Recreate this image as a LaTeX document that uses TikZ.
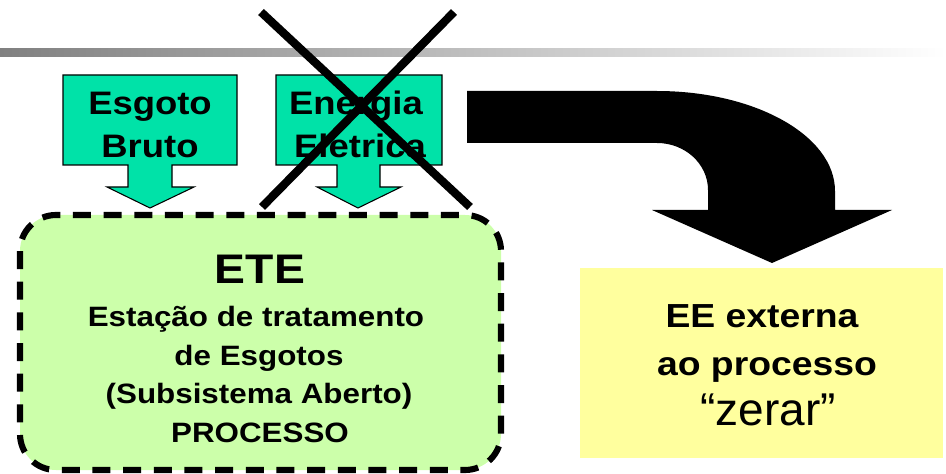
\documentclass[tikz,border=0pt]{standalone}
\usepackage{fontspec}
\setmainfont{Liberation Sans}
\newfontfamily\widefont{Liberation Sans}[FakeStretch=1.12]
\definecolor{mint}{RGB}{0,226,168}
\definecolor{lightgreen}{RGB}{204,255,170}
\definecolor{paleyellow}{RGB}{255,255,158}
\definecolor{bargray}{RGB}{128,128,128}
\tikzset{
  inarrow/.style={fill=mint, draw=black, line width=0.8pt},
  crossline/.style={line width=6.2pt, black},
  boldtxt/.style={anchor=base, inner sep=0pt, font=\widefont\bfseries\fontsize{24.4pt}{30pt}\selectfont},
  bodytxt/.style={anchor=base, inner sep=0pt, font=\widefont\bfseries\fontsize{21pt}{26pt}\selectfont},
  eetxt/.style={anchor=base, inner sep=0pt, font=\widefont\bfseries\fontsize{25pt}{30pt}\selectfont},
}
\begin{document}
\begin{tikzpicture}[x=0.75pt,y=-0.75pt]
\useasboundingbox (0,0) rectangle (946,474);
% gradient bar
\shade[left color=bargray, right color=white] (0,49) rectangle (946,57);
% dashed process box
\draw[fill=lightgreen, line width=4.6pt, dash pattern=on 13.5pt off 9.5pt, rounded corners=27pt]
  (20,215) rectangle (501,470);
% input arrows
\draw[inarrow] (63,75) -- (237,75) -- (237,165) -- (172,165) -- (172,187) -- (194,187)
  -- (150,208) -- (107,187) -- (128,187) -- (128,165) -- (63,165) -- cycle;
\draw[inarrow] (276,75) -- (442,75) -- (442,165) -- (380,165) -- (380,187) -- (401,187)
  -- (358,208) -- (317,187) -- (337,187) -- (337,165) -- (276,165) -- cycle;
\node[boldtxt] (esg1) at (150,115) {Esgoto};
\node[boldtxt] (esg2) at (150,158) {Bruto};
\node[boldtxt] (ene1) at (356,115) {Energia};
\node[boldtxt] (ene2) at (360,158) {Eletrica};
% big curved arrow
\fill[black] (467,91) -- (657,91)
  arc[start angle=-90, end angle=0, x radius=178, y radius=100]
  -- (835,210) -- (892,210) -- (772,263) -- (652,210) -- (708,210) -- (708,190)
  arc[start angle=0, end angle=-90, x radius=51, y radius=47]
  -- (467,143) -- cycle;
% external box
\fill[paleyellow] (580,268) rectangle (943,458);
\node[eetxt] (ee1) at (762,327) {EE externa};
\node[eetxt] (ee2) at (767,375) {ao processo};
\node[anchor=base, inner sep=0pt, font=\fontsize{34.5pt}{40pt}\selectfont] (ee3) at (768,425) {“zerar”};
% ETE text
\node[anchor=base, inner sep=0pt, font=\widefont\bfseries\fontsize{31pt}{36pt}\selectfont] (ete) at (260,283) {ETE};
\node[bodytxt] (b1) at (256,326) {Estação de tratamento};
\node[bodytxt] (b2) at (259,365) {de Esgotos};
\node[bodytxt] (b3) at (259,403) {(Subsistema Aberto)};
\node[bodytxt] (b4) at (260,442) {PROCESSO};
% cross
\coordinate (c1a) at (261,12);
\coordinate (c1b) at (470,207);
\coordinate (c2a) at (454,12);
\coordinate (c2b) at (262,207);
\draw[crossline] (c1a) -- (c1b);
\draw[crossline] (c2a) -- (c2b);
\end{tikzpicture}
\end{document}
